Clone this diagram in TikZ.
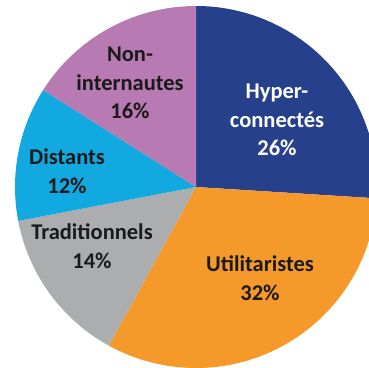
\documentclass[tikz,border=0pt]{standalone}
\usepackage{fontspec}
\setmainfont{Carlito}
\definecolor{cHyp}{HTML}{26408B}
\definecolor{cUti}{HTML}{F5992A}
\definecolor{cTra}{HTML}{ABADAE}
\definecolor{cDis}{HTML}{12A9E0}
\definecolor{cNon}{HTML}{B77AB3}
\definecolor{cTxt}{HTML}{1A1A1A}
\begin{document}
\begin{tikzpicture}[x=1pt,y=1pt,
  lbl/.style={font=\fontsize{22.5}{28.5}\selectfont\bfseries, align=center, text=cTxt, inner sep=0pt}]
\useasboundingbox (0,0) rectangle (369,367);
\clip (0,0) rectangle (369,367);
\coordinate (c) at (196,180);
\def\R{181}
\fill[cHyp] (c) -- ++(90:\R) arc[start angle=90, end angle=-3.6, radius=\R] -- cycle;
\fill[cUti] (c) -- ++(-3.6:\R) arc[start angle=-3.6, end angle=-118.8, radius=\R] -- cycle;
\fill[cTra] (c) -- ++(-118.8:\R) arc[start angle=-118.8, end angle=-169.2, radius=\R] -- cycle;
\fill[cDis] (c) -- ++(-169.2:\R) arc[start angle=-169.2, end angle=-212.4, radius=\R] -- cycle;
\fill[cNon] (c) -- ++(147.6:\R) arc[start angle=147.6, end angle=90, radius=\R] -- cycle;
\node[lbl, text=white] (hyp) at (277,247) {Hyper-\\connectés\\26\%};
\node[lbl] (uti) at (260,89) {Utilitaristes\\32\%};
\node[lbl] (tra) at (92,121) {Traditionnels\\14\%};
\node[lbl] (dis) at (67,196) {Distants\\12\%};
\node[lbl] (non) at (130,284) {Non-\\internautes\\16\%};
\end{tikzpicture}
\end{document}
